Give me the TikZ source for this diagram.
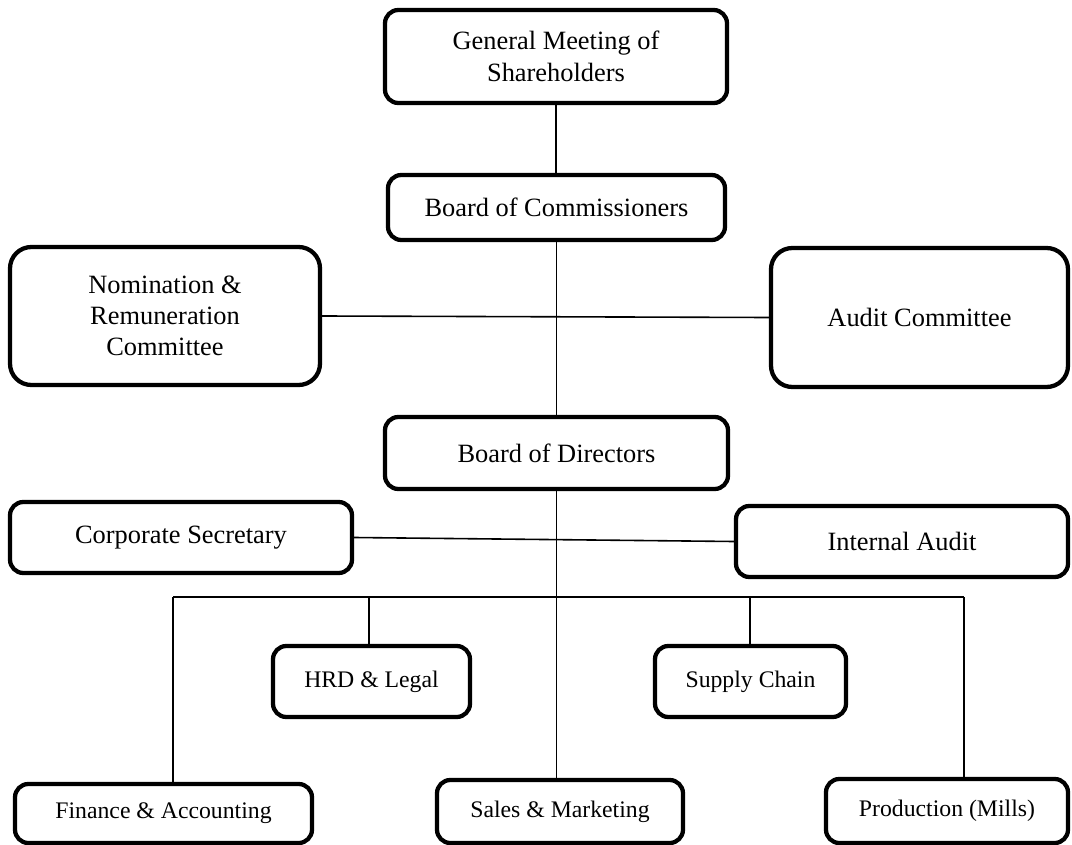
\documentclass[tikz,border=0pt]{standalone}
\usepackage{fontspec}
\setmainfont{Liberation Serif}
\begin{document}
\begin{tikzpicture}[x=0.75pt,y=-0.75pt,
  box/.style={draw=black,line width=3.2pt,rounded corners=10pt,fill=white,inner sep=0pt,align=center,
    font=\fontsize{19.8}{23.5}\selectfont},
  bigbox/.style={box,rounded corners=16pt},
  smallbox/.style={box,font=\fontsize{17.8}{21}\selectfont},
  conn/.style={draw=black,line width=1.2pt}]
\useasboundingbox (0,0) rectangle (1072,845);
% nodes
\node[box,minimum width=342*0.75pt,minimum height=93*0.75pt] (gm) at (556,56.5) {General Meeting of\\Shareholders};
\node[box,minimum width=337*0.75pt,minimum height=65*0.75pt] (boc) at (556.5,207.5) {Board of Commissioners};
\node[bigbox,minimum width=310*0.75pt,minimum height=138*0.75pt] (nom) at (165,316) {Nomination \&\\Remuneration\\Committee};
\node[bigbox,minimum width=297*0.75pt,minimum height=139*0.75pt] (aud) at (919.5,317.5) {Audit Committee};
\node[box,minimum width=343*0.75pt,minimum height=72*0.75pt] (bod) at (556.5,453) {Board of Directors};
\node[box,minimum width=342*0.75pt,minimum height=71*0.75pt] (cs) at (181,537.5) {Corporate Secretary};
\node[box,minimum width=332*0.75pt,minimum height=71*0.75pt] (ia) at (902,541.5) {Internal Audit};
\node[smallbox,minimum width=197*0.75pt,minimum height=71*0.75pt] (hrd) at (371.5,681.5) {HRD \& Legal};
\node[smallbox,minimum width=191*0.75pt,minimum height=71*0.75pt] (sc) at (750.5,681.5) {Supply Chain};
\node[smallbox,minimum width=297*0.75pt,minimum height=59*0.75pt] (fin) at (163.5,813.5) {Finance \& Accounting};
\node[smallbox,minimum width=246*0.75pt,minimum height=63*0.75pt] (sal) at (560,811.5) {Sales \& Marketing};
\node[smallbox,minimum width=242*0.75pt,minimum height=64*0.75pt] (pro) at (947,811) {Production (Mills)};
% bus coordinates
\coordinate (bL) at (173,597);
\coordinate (bH) at (369,597);
\coordinate (bS) at (750,597);
\coordinate (bR) at (964,597);
% connectors
\begin{scope}[on background layer/.try]
\end{scope}
\draw[conn] (gm.south) -- (gm.south |- boc.north);
\draw[conn] (boc.south) -- (boc.south |- bod.north);
\draw[conn] (nom.east) -- (aud.west);
\draw[conn] (bod.south) -- (bod.south |- sal.north);
\draw[conn] (cs.east) -- (ia.west);
\draw[conn] (bL) -- (bR);
\draw[conn] (bL) -- (bL |- fin.north);
\draw[conn] (bH) -- (bH |- hrd.north);
\draw[conn] (bS) -- (bS |- sc.north);
\draw[conn] (bR) -- (bR |- pro.north);
\end{tikzpicture}
\end{document}
